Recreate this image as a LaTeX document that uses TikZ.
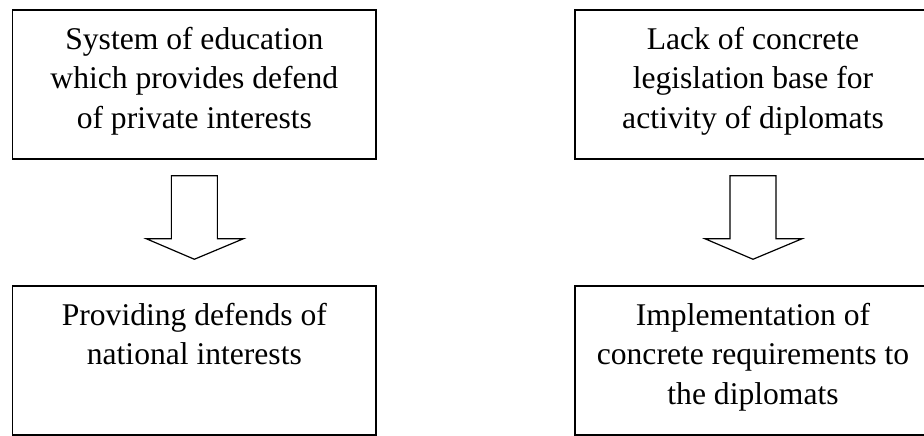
\documentclass[tikz,border=0pt]{standalone}
\usepackage{fontspec}
\setmainfont{Liberation Serif}
\usetikzlibrary{calc}
\tikzset{
  boxnode/.style={draw=black, line width=0.75pt, rectangle, inner sep=0pt,
    minimum height=74.5pt},
  leftbox/.style={boxnode, minimum width=181.65pt},
  rightbox/.style={boxnode, minimum width=178pt},
  boxtext/.style={anchor=north, inner sep=0pt, align=center,
    font=\fontsize{15.8}{19.8}\selectfont},
  blockarrow/.style={draw=black, fill=white, line width=0.6pt, line join=miter}
}
\begin{document}
\begin{tikzpicture}[x=0.5pt, y=-0.5pt]
\useasboundingbox (0,0) rectangle (924,435);
\clip (0,0) rectangle (924,435);
\fill[white] (0,0) rectangle (924,435);

% boxes
\node[leftbox]  (b1) at (194.35,84.5) {};
\node[rightbox] (b2) at (753,84.5) {};
\node[leftbox]  (b3) at (194.35,360.5) {};
\node[rightbox] (b4) at (753,360.5) {};

% texts
\node[boxtext] (t1) at ($(b1.north)+(0,12)$) {\strut System of education\\ which provides defend\\ of private interests};
\node[boxtext] (t2) at ($(b2.north)+(0,12)$) {\strut Lack of concrete\\ legislation base for\\ activity of diplomats};
\node[boxtext] (t3) at ($(b3.north)+(0,12)$) {\strut Providing defends of\\ national interests};
\node[boxtext] (t4) at ($(b4.north)+(0,12)$) {\strut Implementation of\\ concrete requirements to\\ the diplomats};

% block arrows
\foreach \s/\e in {b1/b3, b2/b4}{
  \draw[blockarrow]
    ($(\s.south)+(-23,16)$) -- ($(\s.south)+(-23,79)$) -- ($(\s.south)+(-48,79)$)
    -- ($(\e.north)+(0,-26)$)
    -- ($(\s.south)+(49,79)$) -- ($(\s.south)+(23,79)$) -- ($(\s.south)+(23,16)$) -- cycle;
}
\end{tikzpicture}
\end{document}
